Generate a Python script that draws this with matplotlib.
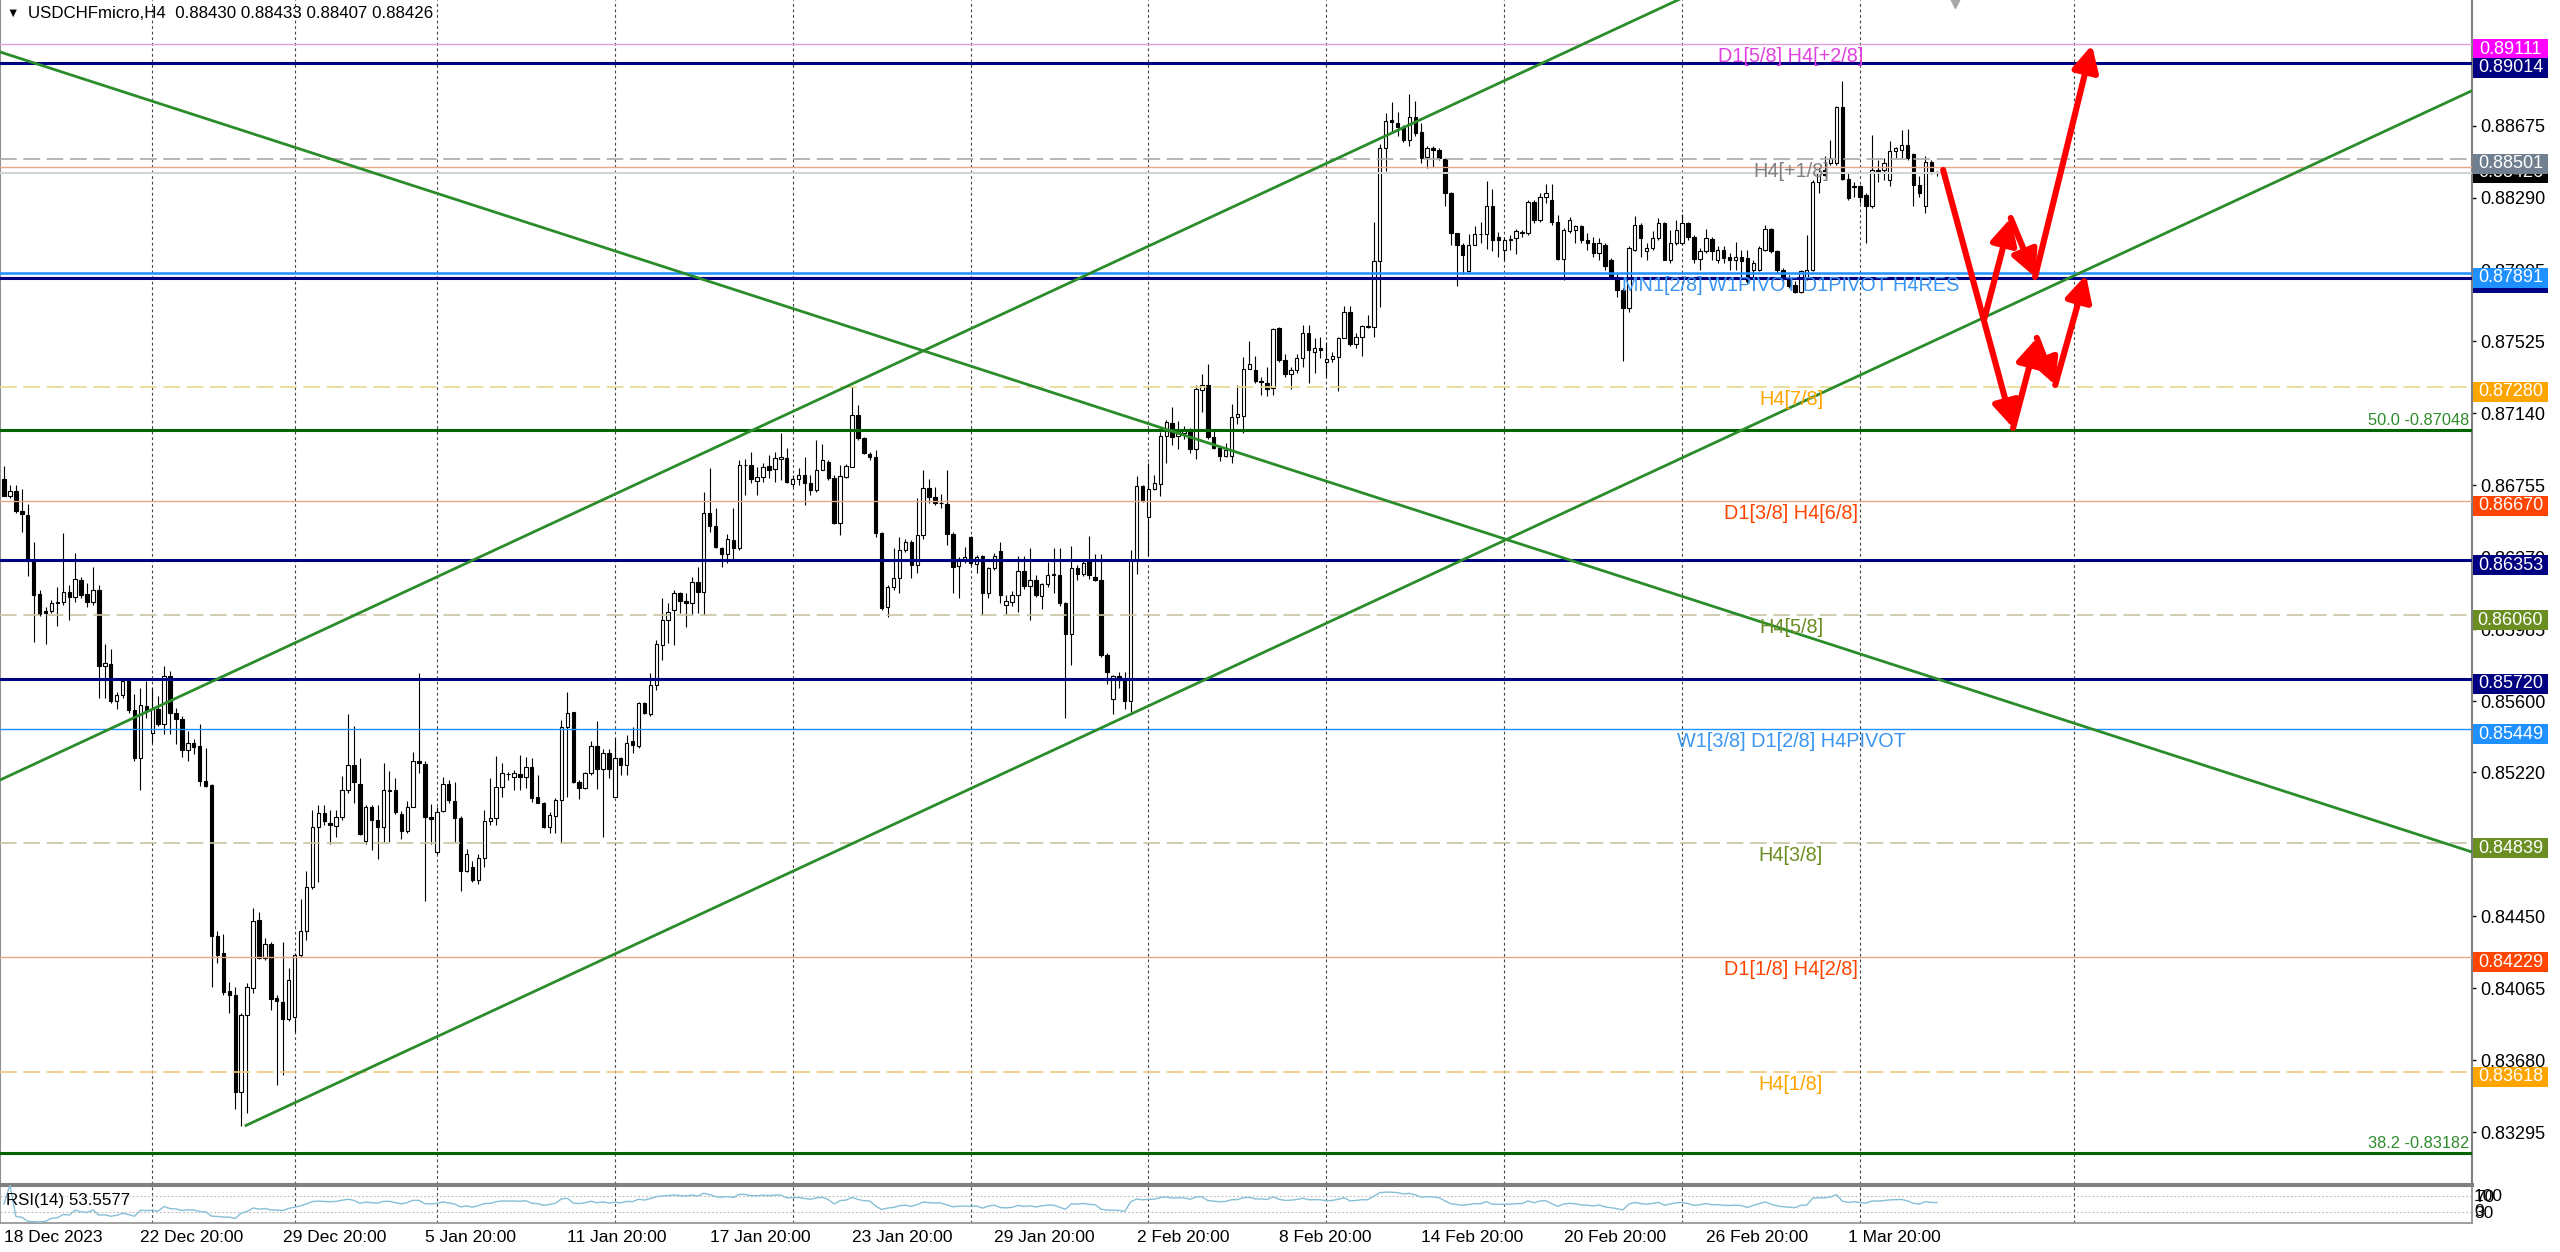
import numpy as np
import pandas as pd
import matplotlib
matplotlib.use("Agg")
import matplotlib.pyplot as plt
import matplotlib.transforms as mtransforms
from matplotlib.patches import Rectangle

plt.rcParams['font.family'] = ['Liberation Sans', 'DejaVu Sans']

# ---------------- data (prices in 1e-5 units) ----------------
bar_open = [
    86790, 86699, 86722, 86619, 86596, 86349, 86173, 86082, 86082, 86123, 86128, 86185, 86155, 86249, 86173, 86128,
    86192, 85790, 85796, 85598, 85630, 85705, 85552, 85294, 85575, 85431, 85556, 85476, 85735, 85534, 85506, 85339,
    85378, 85362, 85175, 85150, 84345, 84254, 84048, 84026, 83511, 83923, 84067, 84432, 84227, 84300, 84014, 83991,
    83900, 83911, 84243, 84368, 84608, 84928, 85003, 84946, 84933, 84981, 85127, 85260, 85157, 84853, 85031, 84962,
    84928, 85118, 85127, 84997, 84905, 85035, 85282, 85264, 84981, 84791, 85013, 85157, 85065, 84974, 84693, 84711,
    84642, 84761, 84958, 84974, 85143, 85211, 85196, 85211, 85196, 85246, 85086, 85054, 84929, 84983, 85072, 85464,
    85539, 85170, 85134, 85214, 85361, 85236, 85325, 85089, 85294, 85259, 85384, 85361, 85588, 85531, 85686, 85900,
    86034, 86087, 86177, 86137, 86123, 86235, 86185, 86608, 86537, 86417, 86387, 86462, 86417, 86863, 86863, 86779,
    86797, 86857, 86840, 86893, 86898, 86761, 86786, 86809, 86765, 86729, 86836, 86880, 86791, 86554, 86800, 86854,
    87130, 87005, 86921, 86907, 86497, 86105, 86209, 86257, 86408, 86453, 86328, 86488, 86738, 86690, 86661, 86654,
    86494, 86323, 86355, 86480, 86333, 86376, 86180, 86310, 86400, 86116, 86131, 86168, 86297, 86214, 86247, 86164,
    86226, 86282, 86276, 86126, 85960, 86309, 86280, 86355, 86261, 86247, 85846, 85611, 85732, 85711, 85600, 86355,
    86749, 86583, 86733, 86760, 87020, 87086, 87020, 87036, 87044, 86947, 87264, 87290, 87010, 86953, 86911, 86911,
    87119, 87127, 87377, 87368, 87314, 87300, 87273, 87597, 87424, 87348, 87368, 87435, 87570, 87466, 87487, 87414,
    87431, 87439, 87543, 87680, 87508, 87549, 87601, 87601, 87954, 88556, 88706, 88691, 88671, 88598, 88723, 88644,
    88511, 88556, 88546, 88498, 88318, 88104, 88041, 87902, 88041, 88099, 88099, 88245, 88079, 88013, 88063, 88075,
    88102, 88102, 88266, 88173, 88298, 88280, 88159, 87963, 88111, 88120, 88138, 88063, 88049, 87995, 88040, 87960,
    87870, 87799, 87701, 88013, 88147, 88004, 88022, 88075, 88156, 87960, 88049, 88049, 88156, 88084, 87963, 88004,
    88070, 87960, 88013, 87977, 87960, 87977, 87968, 87906, 87906, 88013, 88123, 88004, 87906, 87856, 87826, 87790,
    87861, 87906, 88378, 88441, 88476, 88476, 88776, 88391, 88355, 88352, 88307, 88245, 88441, 88441, 88387, 88539,
    88547, 88574, 88526, 88360, 88245, 88480, 88430,
]
bar_high = [
    86859, 86756, 86756, 86733, 86653, 86448, 86196, 86105, 86139, 86208, 86498, 86219, 86390, 86265, 86231, 86315,
    86219, 85904, 85876, 85648, 85716, 85716, 85636, 85671, 85705, 85671, 85625, 85785, 85762, 85561, 85522, 85442,
    85397, 85476, 85351, 85157, 84368, 84357, 84099, 84071, 83934, 84094, 84494, 84471, 84334, 84311, 84026, 84311,
    84174, 84254, 84540, 84693, 85019, 85042, 85042, 85019, 85019, 85202, 85529, 85465, 85294, 85042, 85042, 85042,
    85271, 85225, 85191, 85013, 85065, 85328, 85751, 85278, 85049, 85035, 85195, 85179, 85168, 84985, 84807, 84745,
    84780, 85019, 85191, 85305, 85268, 85223, 85232, 85312, 85303, 85294, 85205, 85063, 85009, 85081, 85499, 85646,
    85544, 85179, 85223, 85389, 85496, 85343, 85343, 85401, 85303, 85419, 85464, 85597, 85597, 85752, 85924, 86150,
    86123, 86194, 86185, 86177, 86262, 86319, 86720, 86845, 86631, 86426, 86494, 86631, 86889, 86893, 86934, 86850,
    86872, 86916, 86934, 87035, 86952, 86809, 86845, 86904, 86809, 86996, 86975, 86889, 86809, 86863, 86868, 87281,
    87183, 87014, 86934, 86943, 86506, 86221, 86417, 86476, 86465, 86462, 86684, 86836, 86786, 86743, 86708, 86836,
    86506, 86373, 86426, 86483, 86381, 86381, 86319, 86390, 86448, 86168, 86189, 86376, 86376, 86417, 86272, 86230,
    86344, 86417, 86417, 86131, 86428, 86330, 86355, 86484, 86386, 86386, 85856, 85742, 85753, 85753, 86407, 86801,
    86754, 86874, 86808, 87040, 87103, 87175, 87098, 87071, 87061, 87290, 87348, 87404, 87051, 86961, 86978, 87190,
    87290, 87439, 87528, 87445, 87335, 87389, 87597, 87601, 87456, 87389, 87456, 87611, 87611, 87539, 87549, 87518,
    87466, 87549, 87715, 87715, 87570, 87611, 87663, 88162, 88577, 88743, 88802, 88748, 88681, 88847, 88810, 88691,
    88567, 88567, 88556, 88505, 88324, 88104, 88048, 88095, 88141, 88162, 88380, 88338, 88110, 88084, 88093, 88123,
    88120, 88277, 88277, 88316, 88366, 88366, 88200, 88129, 88191, 88147, 88147, 88102, 88084, 88075, 88049, 87968,
    87888, 87808, 88031, 88195, 88156, 88049, 88111, 88182, 88164, 88120, 88173, 88204, 88164, 88093, 88022, 88123,
    88084, 88031, 88031, 87995, 88057, 88013, 88013, 87960, 88031, 88147, 88129, 88013, 87915, 87880, 87844, 87906,
    88093, 88387, 88458, 88512, 88601, 88783, 88918, 88423, 88378, 88360, 88316, 88628, 88494, 88503, 88597, 88565,
    88654, 88658, 88530, 88405, 88512, 88494, 88433,
]
bar_low = [
    86695, 86688, 86608, 86505, 86269, 85917, 86055, 85904, 86071, 86002, 86116, 86036, 86128, 86151, 86105, 86116,
    85614, 85614, 85591, 85556, 85614, 85534, 85282, 85122, 85511, 85374, 85465, 85424, 85424, 85369, 85300, 85282,
    85316, 85145, 85141, 84071, 84197, 84030, 83930, 83420, 83330, 83400, 84037, 84220, 84213, 83946, 83546, 83603,
    83888, 83831, 84231, 84323, 84597, 84631, 84940, 84837, 84871, 84962, 85111, 85054, 84882, 84837, 84802, 84757,
    84848, 84848, 84997, 84860, 84894, 85031, 85214, 84533, 84837, 84780, 85008, 85054, 84848, 84585, 84684, 84631,
    84624, 84711, 84940, 84940, 85089, 85179, 85125, 85125, 85134, 85063, 85054, 84920, 84894, 84894, 84840, 85089,
    85161, 85075, 85129, 85205, 85129, 84872, 85188, 85089, 85205, 85205, 85325, 85348, 85531, 85521, 85660, 85820,
    85909, 85900, 86070, 85998, 86061, 86070, 86061, 86506, 86417, 86319, 86337, 86355, 86408, 86702, 86765, 86702,
    86773, 86791, 86773, 86782, 86765, 86747, 86756, 86649, 86702, 86720, 86836, 86782, 86547, 86488, 86791, 86850,
    86996, 86921, 86889, 86480, 86087, 86052, 86194, 86177, 86399, 86257, 86283, 86465, 86658, 86649, 86631, 86435,
    86177, 86150, 86337, 86323, 86287, 86061, 86150, 86301, 86126, 86064, 86106, 86074, 86199, 86033, 86158, 86095,
    86209, 86178, 86106, 85510, 85794, 86250, 86270, 86251, 86241, 85836, 85690, 85530, 85670, 85560, 85540, 86282,
    86666, 86376, 86729, 86698, 86874, 86968, 86947, 86999, 86926, 86895, 87144, 86999, 86947, 86884, 86905, 86874,
    87082, 87036, 87373, 87300, 87238, 87231, 87238, 87414, 87331, 87269, 87352, 87389, 87300, 87352, 87435, 87331,
    87414, 87258, 87539, 87497, 87487, 87445, 87597, 87549, 87705, 88432, 88635, 88619, 88588, 88567, 88619, 88478,
    88453, 88457, 88494, 88245, 88037, 87819, 87881, 87892, 88037, 88048, 88016, 88006, 87975, 87960, 88013, 87991,
    88084, 88093, 88155, 88164, 88262, 88147, 87959, 87853, 88102, 88049, 88049, 88013, 87977, 87960, 87906, 87861,
    87763, 87416, 87683, 88004, 87977, 87960, 88013, 88066, 87956, 87942, 88040, 88040, 88066, 87942, 87906, 87995,
    87960, 87942, 87942, 87906, 87906, 87870, 87835, 87870, 87897, 88004, 87995, 87888, 87835, 87808, 87781, 87781,
    87853, 87897, 88316, 88405, 88467, 88467, 88387, 88280, 88298, 88262, 88049, 88236, 88378, 88387, 88352, 88503,
    88503, 88494, 88245, 88298, 88209, 88419, 88407,
]
bar_close = [
    86699, 86722, 86619, 86603, 86349, 86169, 86064, 86073, 86123, 86132, 86185, 86155, 86253, 86169, 86132, 86192,
    85790, 85803, 85602, 85632, 85705, 85552, 85294, 85579, 85545, 85556, 85476, 85735, 85538, 85506, 85339, 85374,
    85355, 85175, 85145, 84345, 84243, 84044, 84026, 83511, 83923, 84071, 84425, 84227, 84300, 84007, 83998, 83900,
    84106, 84243, 84373, 84608, 84928, 85003, 84958, 84935, 84981, 85127, 85260, 85168, 84889, 85031, 84962, 84928,
    85122, 85127, 85008, 84905, 85035, 85282, 85271, 84981, 84967, 85008, 85157, 85072, 84974, 84693, 84780, 84642,
    84761, 84958, 84974, 85141, 85218, 85209, 85214, 85196, 85246, 85081, 85057, 84929, 84992, 85072, 85464, 85535,
    85170, 85134, 85214, 85361, 85236, 85325, 85236, 85294, 85259, 85378, 85366, 85588, 85535, 85686, 85906, 86034,
    86079, 86177, 86137, 86123, 86235, 86185, 86608, 86537, 86422, 86387, 86465, 86417, 86863, 86861, 86786, 86797,
    86854, 86836, 86898, 86904, 86773, 86786, 86809, 86765, 86729, 86836, 86889, 86791, 86554, 86804, 86857, 87130,
    87005, 86925, 86904, 86497, 86096, 86209, 86257, 86408, 86453, 86328, 86488, 86738, 86690, 86661, 86658, 86494,
    86319, 86358, 86373, 86337, 86373, 86180, 86310, 86376, 86168, 86137, 86168, 86297, 86214, 86247, 86168, 86226,
    86276, 86272, 86126, 85960, 86309, 86280, 86338, 86272, 86247, 85846, 85753, 85732, 85711, 85600, 86355, 86749,
    86671, 86733, 86766, 87020, 87092, 87010, 87044, 87051, 86947, 87269, 87290, 87010, 86953, 86911, 86940, 87119,
    87134, 87377, 87404, 87310, 87306, 87269, 87591, 87424, 87348, 87368, 87435, 87570, 87476, 87487, 87476, 87429,
    87445, 87543, 87680, 87508, 87549, 87605, 87605, 87954, 88556, 88702, 88698, 88671, 88598, 88723, 88640, 88505,
    88556, 88546, 88505, 88318, 88104, 88041, 87985, 88041, 88099, 88097, 88245, 88068, 88068, 88063, 88073, 88111,
    88107, 88271, 88173, 88298, 88316, 88159, 87963, 88120, 88173, 88138, 88063, 88049, 87995, 88049, 87924, 87870,
    87799, 87701, 88022, 88147, 88075, 88022, 88075, 88156, 87960, 88049, 88120, 88156, 88084, 87963, 88004, 88075,
    88004, 88013, 87968, 87960, 87977, 87951, 87844, 87942, 88022, 88123, 88004, 87906, 87856, 87821, 87790, 87897,
    87906, 88378, 88423, 88414, 88503, 88776, 88391, 88289, 88348, 88298, 88245, 88441, 88432, 88476, 88539, 88556,
    88574, 88503, 88360, 88316, 88480, 88432, 88426,
]

title_text = "USDCHFmicro,H4  0.88430 0.88433 0.88407 0.88426"
rsi_caption = "RSI(14) 53.5577"

date_labels = ['18 Dec 2023', '22 Dec 20:00', '29 Dec 20:00', '5 Jan 20:00', '11 Jan 20:00',
               '17 Jan 20:00', '23 Jan 20:00', '29 Jan 20:00', '2 Feb 20:00', '8 Feb 20:00',
               '14 Feb 20:00', '20 Feb 20:00', '26 Feb 20:00', '1 Mar 20:00']
date_label_bars = [0, 23, 47, 71, 95, 119, 143, 167, 191, 215, 239, 263, 287, 311]
grid_bars = [25, 49, 73, 103, 133, 163, 193, 223, 253, 283, 313, 349]

price_ticks = [0.89060, 0.88675, 0.88290, 0.87905, 0.87525, 0.87140, 0.86755, 0.86370,
               0.85985, 0.85600, 0.85220, 0.84835, 0.84450, 0.84065, 0.83680, 0.83295]

# horizontal levels
level_prices = [0.89111, 0.89014, 0.88501, 0.88456, 0.88426, 0.87891, 0.87864, 0.87280, 0.87048,
                0.86670, 0.86353, 0.86060, 0.85720, 0.85449, 0.84839, 0.84229, 0.83618, 0.83182]
level_names = ['D1[5/8] H4[+2/8]', '', 'H4[+1/8]', '', '', 'MN1[2/8] W1PIVOT D1PIVOT H4RES', '',
               'H4[7/8]', '', 'D1[3/8] H4[6/8]', '', 'H4[5/8]', '', 'W1[3/8] D1[2/8] H4PIVOT',
               'H4[3/8]', 'D1[1/8] H4[2/8]', 'H4[1/8]', '']
fib_prices = [0.87048, 0.83182]
fib_names = ['50.0 -0.87048', '38.2 -0.83182']

# price boxes on the right scale (drawn in this order)
box_prices = [0.89111, 0.89014, 0.88426, 0.88501, 0.87864, 0.87891, 0.87280, 0.86670,
              0.86353, 0.86060, 0.85720, 0.85449, 0.84839, 0.84229, 0.83618]

# trend lines: two anchors (bar, price)
trend_desc = [(-0.67, 0.89071), (416.2, 0.84793)]
trend_upper = [(-0.67, 0.85178), (282.3, 0.89349)]
trend_lower = [(40.6, 0.83328), (416.2, 0.88864)]

# projected path (bar, price)
path_start = (327.0, 0.88440)
path_a = [(333.9, 0.87638), (338.4, 0.88183), (342.5, 0.87868), (352.1, 0.89108)]
path_b = [(338.8, 0.87060), (342.8, 0.87542), (345.9, 0.87290), (351.1, 0.87879)]

# ---------------- styles ----------------
NAVY = '#000080'
DGREEN = '#006400'
DODGER = '#1E90FF'
SALMON = '#E9A58A'
level_styles = [
    dict(color='#DDA0DD', lw=1.0, ls='-'),
    dict(color=NAVY, lw=2.2, ls='-'),
    dict(color='#A9A9A9', lw=1.2, ls=(0, (10, 4))),
    dict(color=SALMON, lw=1.0, ls='-'),
    dict(color='#D3D3D3', lw=1.4, ls='-'),
    dict(color=DODGER, lw=1.8, ls='-'),
    dict(color=NAVY, lw=2.2, ls='-'),
    dict(color='#E8D890', lw=1.2, ls=(0, (10, 4))),
    dict(color=DGREEN, lw=2.2, ls='-'),
    dict(color=SALMON, lw=1.0, ls='-'),
    dict(color=NAVY, lw=2.2, ls='-'),
    dict(color='#C8C4A4', lw=1.2, ls=(0, (10, 4))),
    dict(color=NAVY, lw=2.2, ls='-'),
    dict(color=DODGER, lw=1.0, ls='-'),
    dict(color='#C8C4A4', lw=1.2, ls=(0, (10, 4))),
    dict(color=SALMON, lw=1.0, ls='-'),
    dict(color='#F0C878', lw=1.2, ls=(0, (10, 4))),
    dict(color=DGREEN, lw=2.2, ls='-'),
]
name_colors = ['#E040E0', None, '#808080', None, None, '#3A96F0', None, '#FFA500', None,
               '#FF4500', None, '#6B8E23', None, '#3A96F0', '#6B8E23', '#FF4500', '#FFA500', None]
box_colors = ['#FF00FF', NAVY, '#000000', '#708090', NAVY, DODGER, '#FFA500', '#FF4500',
              NAVY, '#6B8E23', NAVY, DODGER, '#6B8E23', '#FF4500', '#FFA500']
box_shift = [-5, -5, 0, -5, -5, -5, -5, -5, -5, -5, -5, -5, -5, -5, -5]

W_PX, H_PX, DPI = 2560, 1252, 100
BAR_PX, X0_PX = 5.93, 4.0
PLOT_RIGHT = 2472
MAIN_BOTTOM = 1184
RSI_TOP, RSI_BOTTOM = 1185, 1223
P_TOP, P_PER_PX = 0.893487, 0.00005347

fig = plt.figure(figsize=(W_PX / DPI, H_PX / DPI), dpi=DPI, facecolor='white')
ax = fig.add_axes([0, (H_PX - MAIN_BOTTOM) / H_PX, PLOT_RIGHT / W_PX, MAIN_BOTTOM / H_PX])
ax_rsi = fig.add_axes([0, (H_PX - RSI_BOTTOM) / H_PX, PLOT_RIGHT / W_PX, (RSI_BOTTOM - RSI_TOP) / H_PX])

o = np.array(bar_open) / 1e5
h = np.array(bar_high) / 1e5
l = np.array(bar_low) / 1e5
c = np.array(bar_close) / 1e5
x = np.arange(len(o))
xlim = (-X0_PX / BAR_PX, (PLOT_RIGHT - X0_PX) / BAR_PX)

# grid
for gb in grid_bars:
    ax.axvline(gb, color='#444444', lw=0.8, ls=(0, (2.5, 2.5)), zorder=1)
    ax_rsi.axvline(gb, color='#444444', lw=0.8, ls=(0, (2.5, 2.5)), zorder=1)

# candles
up = c >= o
ax.vlines(x, l, h, color='black', lw=0.8, zorder=2)
ax.bar(x[up], (c - o)[up], bottom=o[up], width=0.58, color='white', edgecolor='black', lw=0.8, zorder=3)
ax.bar(x[~up], (o - c)[~up], bottom=c[~up], width=0.58, color='black', edgecolor='black', lw=0.8, zorder=3)

# horizontal levels
for p, st in zip(level_prices, level_styles):
    ax.axhline(p, color=st['color'], lw=st['lw'], ls=st['ls'], zorder=4)

base = mtransforms.blended_transform_factory(ax.transAxes, ax.transData)


def shifted(dx, dy):
    return base + mtransforms.ScaledTranslation(dx / DPI, dy / DPI, fig.dpi_scale_trans)


LABEL_X = 1791 / PLOT_RIGHT
for p, name, col in zip(level_prices, level_names, name_colors):
    if name:
        ax.text(LABEL_X, p, name, transform=shifted(0, -12.5), ha='center', va='center',
                fontsize=14.3, color=col, zorder=6)
for p, name in zip(fib_prices, fib_names):
    ax.text(1.0, p, name, transform=shifted(-3, 10), ha='right', va='center',
            fontsize=11.8, color='#2E8B2E', zorder=6)


# trend lines
def draw_trend(anchors, x_from, x_to):
    (x1, y1), (x2, y2) = anchors
    k = (y2 - y1) / (x2 - x1)
    ax.plot([x_from, x_to], [y1 + k * (x_from - x1), y1 + k * (x_to - x1)],
            color='#2A8C2A', lw=2.0, zorder=5, solid_capstyle='butt')


draw_trend(trend_desc, xlim[0] - 1, xlim[1] + 1)
draw_trend(trend_upper, xlim[0] - 1, xlim[1] + 1)
draw_trend(trend_lower, trend_lower[0][0], xlim[1] + 1)

# projected red arrows
arrow_kw = dict(arrowstyle='-|>,head_length=0.7,head_width=0.36', color='#FF0000', lw=4.4,
                shrinkA=0, shrinkB=0, mutation_scale=22)
segments = [(path_start, path_b[0])]
segments += [(path_a[0], path_a[1]), (path_a[1], path_a[2]), (path_a[2], path_a[3])]
segments += [(path_b[0], path_b[1]), (path_b[1], path_b[2]), (path_b[2], path_b[3])]
for s, e in segments:
    ax.annotate('', xy=e, xytext=s, arrowprops=arrow_kw, zorder=7)

# chart shift marker
ax.plot([329], [P_TOP], marker='v', color='#A8A8A8', ms=12, clip_on=False, zorder=8)

ax.set_xlim(*xlim)
ax.set_ylim(P_TOP - MAIN_BOTTOM * P_PER_PX, P_TOP)
ax.set_xticks([])
ax.yaxis.tick_right()
ax.set_yticks(price_ticks)
ax.set_yticklabels([f'{t:.5f}' for t in price_ticks])
ax.tick_params(axis='y', length=3, width=1, pad=3, labelsize=13, colors='black')
ax.spines['top'].set_visible(False)
ax.spines['left'].set_color('#909090')
ax.spines['left'].set_linewidth(1.5)
ax.spines['right'].set_color('#808080')
ax.spines['right'].set_linewidth(1.5)
ax.spines['bottom'].set_color('#808080')
ax.spines['bottom'].set_linewidth(2.2)

# price boxes
for i, (p, col, dy) in enumerate(zip(box_prices, box_colors, box_shift)):
    tr = mtransforms.Affine2D() + mtransforms.ScaledTranslation(1.0, p, base)
    fig.add_artist(Rectangle((1, dy - 10), 75, 20, transform=tr, facecolor=col, edgecolor='none',
                             zorder=5 + 2 * i))
    fig.text(38.5, dy, f'{p:.5f}', transform=tr, ha='center', va='center', color='white',
             fontsize=13, zorder=6 + 2 * i)

# title
fig.text(6 / W_PX, 1 - 14 / H_PX, '\u25bc', ha='left', va='center', fontsize=9, color='black')
fig.text(28 / W_PX, 1 - 14 / H_PX, title_text, ha='left', va='center', fontsize=12.2, color='black')

# RSI panel
cs = pd.Series(c)
d = cs.diff().fillna(0)
gain = d.clip(lower=0).ewm(alpha=1 / 14, adjust=False).mean()
loss = (-d.clip(upper=0)).ewm(alpha=1 / 14, adjust=False).mean()
rsi = (100 - 100 / (1 + gain / loss)).fillna(50)
ax_rsi.plot(x, rsi, color='#87BFD6', lw=1.0, zorder=3)
for lvl in (70, 30):
    ax_rsi.axhline(lvl, color='#B8B8B8', lw=0.8, ls=(0, (1.5, 2)), zorder=1)
ax_rsi.set_xlim(*xlim)
ax_rsi.set_ylim(0, 100)
ax_rsi.yaxis.tick_right()
ax_rsi.set_yticks([70, 30])
ax_rsi.set_yticklabels(['70', '30'])
ax_rsi.tick_params(axis='y', length=0, pad=2, labelsize=12.5, colors='black')
rsi_tr = mtransforms.blended_transform_factory(ax_rsi.transAxes, ax_rsi.transData)
rsi_off = mtransforms.ScaledTranslation(2 / DPI, 0, fig.dpi_scale_trans)
ax_rsi.text(1.0, 70, '100', transform=rsi_tr + rsi_off, ha='left', va='center', fontsize=12.5, color='black')
ax_rsi.text(1.0, 30, '0', transform=rsi_tr + rsi_off, ha='left', va='center', fontsize=12.5, color='black')
ax_rsi.text(6 / PLOT_RIGHT, 0.6, rsi_caption, transform=ax_rsi.transAxes, ha='left', va='center',
            fontsize=12.2, color='black')
ax_rsi.set_xticks(date_label_bars)
ax_rsi.set_xticklabels(date_labels)
for lab in ax_rsi.get_xticklabels():
    lab.set_horizontalalignment('left')
ax_rsi.tick_params(axis='x', length=0, pad=5, labelsize=12.5, colors='black')
ax_rsi.spines['top'].set_color('#808080')
ax_rsi.spines['top'].set_linewidth(2.2)
for side in ('left', 'right', 'bottom'):
    ax_rsi.spines[side].set_color('#909090')
    ax_rsi.spines[side].set_linewidth(1.2)

fig.savefig('out.png', dpi=DPI, facecolor='white')
